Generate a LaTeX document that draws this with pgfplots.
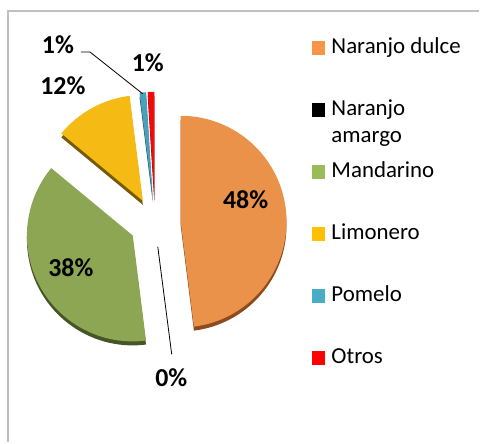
\documentclass[border=0pt]{standalone}
\usepackage{pgfplots}
\pgfplotsset{compat=1.18}
\usepackage{fontspec}
\setmainfont{Carlito}
% slice colours
\definecolor{sO}{RGB}{234,145,74}
\definecolor{sK}{RGB}{0,0,0}
\definecolor{sG}{RGB}{141,166,84}
\definecolor{sY}{RGB}{245,187,20}
\definecolor{sB}{RGB}{72,160,185}
\definecolor{sR}{RGB}{240,10,10}
% side (3D) colours
\definecolor{dO}{RGB}{140,75,30}
\definecolor{dK}{RGB}{0,0,0}
\definecolor{dG}{RGB}{70,85,40}
\definecolor{dY}{RGB}{120,90,5}
\definecolor{dB}{RGB}{30,80,95}
\definecolor{dR}{RGB}{120,0,0}
% legend colours
\definecolor{lO}{RGB}{247,150,70}
\definecolor{lK}{RGB}{0,0,0}
\definecolor{lG}{RGB}{155,187,89}
\definecolor{lY}{RGB}{255,192,0}
\definecolor{lB}{RGB}{75,172,198}
\definecolor{lR}{RGB}{255,0,0}
\definecolor{frame}{RGB}{191,191,191}
\begin{document}
\begin{tikzpicture}
\begin{axis}[
  at={(0,0)}, anchor=origin,
  scale only axis, width=480bp, height=443bp,
  xmin=0, xmax=480, ymin=0, ymax=443,
  hide axis, clip=false,
  legend cell align=left,
  legend image code/.code={\path[#1] (0bp,-7bp) rectangle (14bp,7bp); \path (20bp,0bp);},
  legend style={at={(axis cs:312,406.5)}, anchor=north west,
    draw=none, fill=none, inner sep=0pt, outer sep=0pt,
    font=\fontsize{23}{27}\selectfont, row sep=39.1bp, column sep=0bp,
    nodes={inner sep=0pt, outer sep=0pt, text height=17bp, text depth=6bp}},
]
\path (axis cs:0,0) rectangle (axis cs:480,443);
% frame
\draw[frame, line width=1.5bp] (axis cs:8,0) -- (axis cs:8,432) -- (axis cs:480,432);
% pie: values in percent, exploded slices, start at 12 o'clock, clockwise
\gdef\cum{90}
\foreach \v/\c/\s in {48/sO/dO,0/sK/dK,38/sG/dG,12/sY/dY,1/sB/dB,1/sR/dR}{%
  \pgfmathsetmacro\a{\cum}%
  \pgfmathsetmacro\b{\cum-3.6*\v}%
  \pgfmathsetmacro\m{(\a+\b)/2}%
  \pgfmathsetmacro\px{155.4+25.6*cos(\m)}%
  \pgfmathsetmacro\py{219.4+25.6*sin(\m)}%
  \xdef\cum{\b}%
  \ifdim\v pt>0pt
    \edef\temp{\noexpand\fill[\s] (axis cs:\px,\py) ++(0bp,-4bp) -- ++(\a:106bp) arc[start angle=\a,end angle=\b,radius=106bp] -- cycle;
      \noexpand\fill[\c] (axis cs:\px,\py) -- ++(\a:106bp) arc[start angle=\a,end angle=\b,radius=106bp] -- cycle;}%
    \temp
  \fi
}
% leader lines
\draw[black, line width=0.8bp] (axis cs:81,391) -- (axis cs:90,391) -- (axis cs:143,349);
\draw[black, line width=0.8bp] (axis cs:158,196) -- (axis cs:172,88);
% data labels
\begin{scope}[every node/.style={font=\fontsize{26}{30}\selectfont\bfseries, inner sep=0pt}]
\node at (axis cs:246,243) {48\%};
\node at (axis cs:71,175) {38\%};
\node at (axis cs:63,357) {12\%};
\node at (axis cs:58,398.5) {1\%};
\node at (axis cs:148,380.5) {1\%};
\node at (axis cs:171.5,65) {0\%};
\end{scope}
% legend
\addlegendimage{fill=lO, draw=none}\addlegendentry{Naranjo dulce}
\addlegendimage{fill=lK, draw=none}\addlegendentry{\parbox[t]{4cm}{Naranjo\\amargo}}
\addlegendimage{fill=lG, draw=none}\addlegendentry{Mandarino}
\addlegendimage{fill=lY, draw=none}\addlegendentry{Limonero}
\addlegendimage{fill=lB, draw=none}\addlegendentry{Pomelo}
\addlegendimage{fill=lR, draw=none}\addlegendentry{Otros}
\end{axis}
\end{tikzpicture}
\end{document}
